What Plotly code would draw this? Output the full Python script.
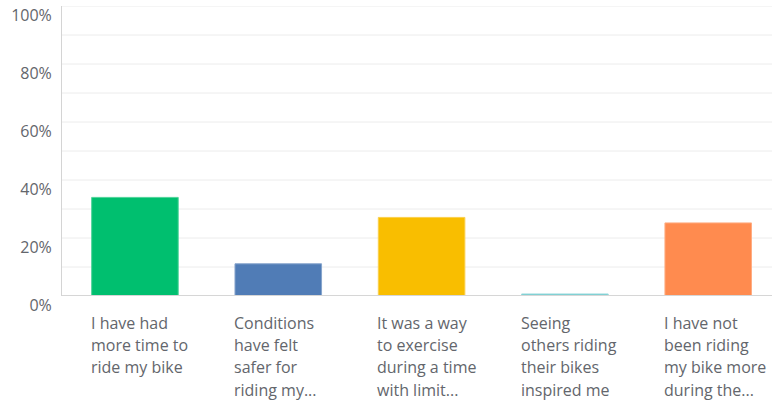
import plotly.graph_objects as go

# Survey answers: share of respondents per reason
categories = [
    "I have had more time to ride my bike",
    "Conditions have felt safer for riding my bike",
    "It was a way to exercise during a time with limited options",
    "Seeing others riding their bikes inspired me",
    "I have not been riding my bike more during the pandemic",
]
wrapped_labels = [
    ["I have had", "more time to", "ride my bike"],
    ["Conditions", "have felt", "safer for", "riding my..."],
    ["It was a way", "to exercise", "during a time", "with limit..."],
    ["Seeing", "others riding", "their bikes", "inspired me"],
    ["I have not", "been riding", "my bike more", "during the..."],
]
percent_values = [34.0, 11.1, 27.1, 0.7, 25.2]
bar_colors = ["#00BF6F", "#507CB6", "#F9BE00", "#6BC8CD", "#FF8B4F"]
edge_colors = ["#4fd49a", "#86a4cc", "#fbd04d", "#9cdadd", "#ffad83"]
y_tick_values = [0, 20, 40, 60, 80, 100]
y_tick_labels = ["0%", "20%", "40%", "60%", "80%", "100%"]

positions = list(range(len(categories)))
font_family = "Open Sans, Lato, sans-serif"
text_gray = "#63666c"

PLOT_TOP, PLOT_BOTTOM = 6, 296          # pixel rows of the plot area
plot_h = PLOT_BOTTOM - PLOT_TOP
LABEL_FIRST_ROW, LABEL_LINE_GAP = 322.5, 22.4

fig = go.Figure(
    go.Bar(
        x=positions,
        y=percent_values,
        marker=dict(color=bar_colors, line=dict(color=edge_colors, width=1)),
        hovertext=categories,
        hoverinfo="text+y",
    )
)

# Minor gridlines every 10%
for v in range(10, 101, 10):
    fig.add_shape(
        type="line", xref="paper", yref="y", x0=0, x1=1, y0=v, y1=v,
        line=dict(color="#ececec", width=1), layer="below",
    )

# Wrapped category labels, left-aligned under each bar, one line each
for pos, lines in zip(positions, wrapped_labels):
    for k, line in enumerate(lines):
        row = LABEL_FIRST_ROW + k * LABEL_LINE_GAP
        fig.add_annotation(
            x=pos - 0.302, y=(PLOT_BOTTOM - row) / plot_h,
            xref="x", yref="paper", xshift=-2, borderpad=0,
            text=line, showarrow=False, xanchor="left", yanchor="middle",
            align="left", font=dict(family=font_family, size=16, color=text_gray),
        )

fig.update_layout(
    width=772, height=402,
    margin=dict(l=62, r=0, t=PLOT_TOP, b=402 - PLOT_BOTTOM),
    paper_bgcolor="white", plot_bgcolor="white",
    bargap=0.396,
    showlegend=False,
    font=dict(family=font_family, color=text_gray),
    xaxis=dict(
        range=[-0.509, 4.445], showticklabels=False, showgrid=False,
        zeroline=False, showline=False, fixedrange=True,
    ),
    yaxis=dict(
        range=[0, 100], tickvals=y_tick_values, ticktext=y_tick_labels,
        showgrid=False, zeroline=False,
        showline=True, linecolor="#d4d4d4", linewidth=1,
        ticks="", ticklabelshift=9, ticklabelstandoff=6,
        tickfont=dict(family=font_family, size=16, color=text_gray),
        fixedrange=True,
    ),
)

# Baseline at 0%
fig.add_shape(
    type="line", xref="paper", yref="y", x0=0, x1=1, y0=0, y1=0,
    line=dict(color="#d6d6d6", width=2),
)

fig.write_html("out.html")
